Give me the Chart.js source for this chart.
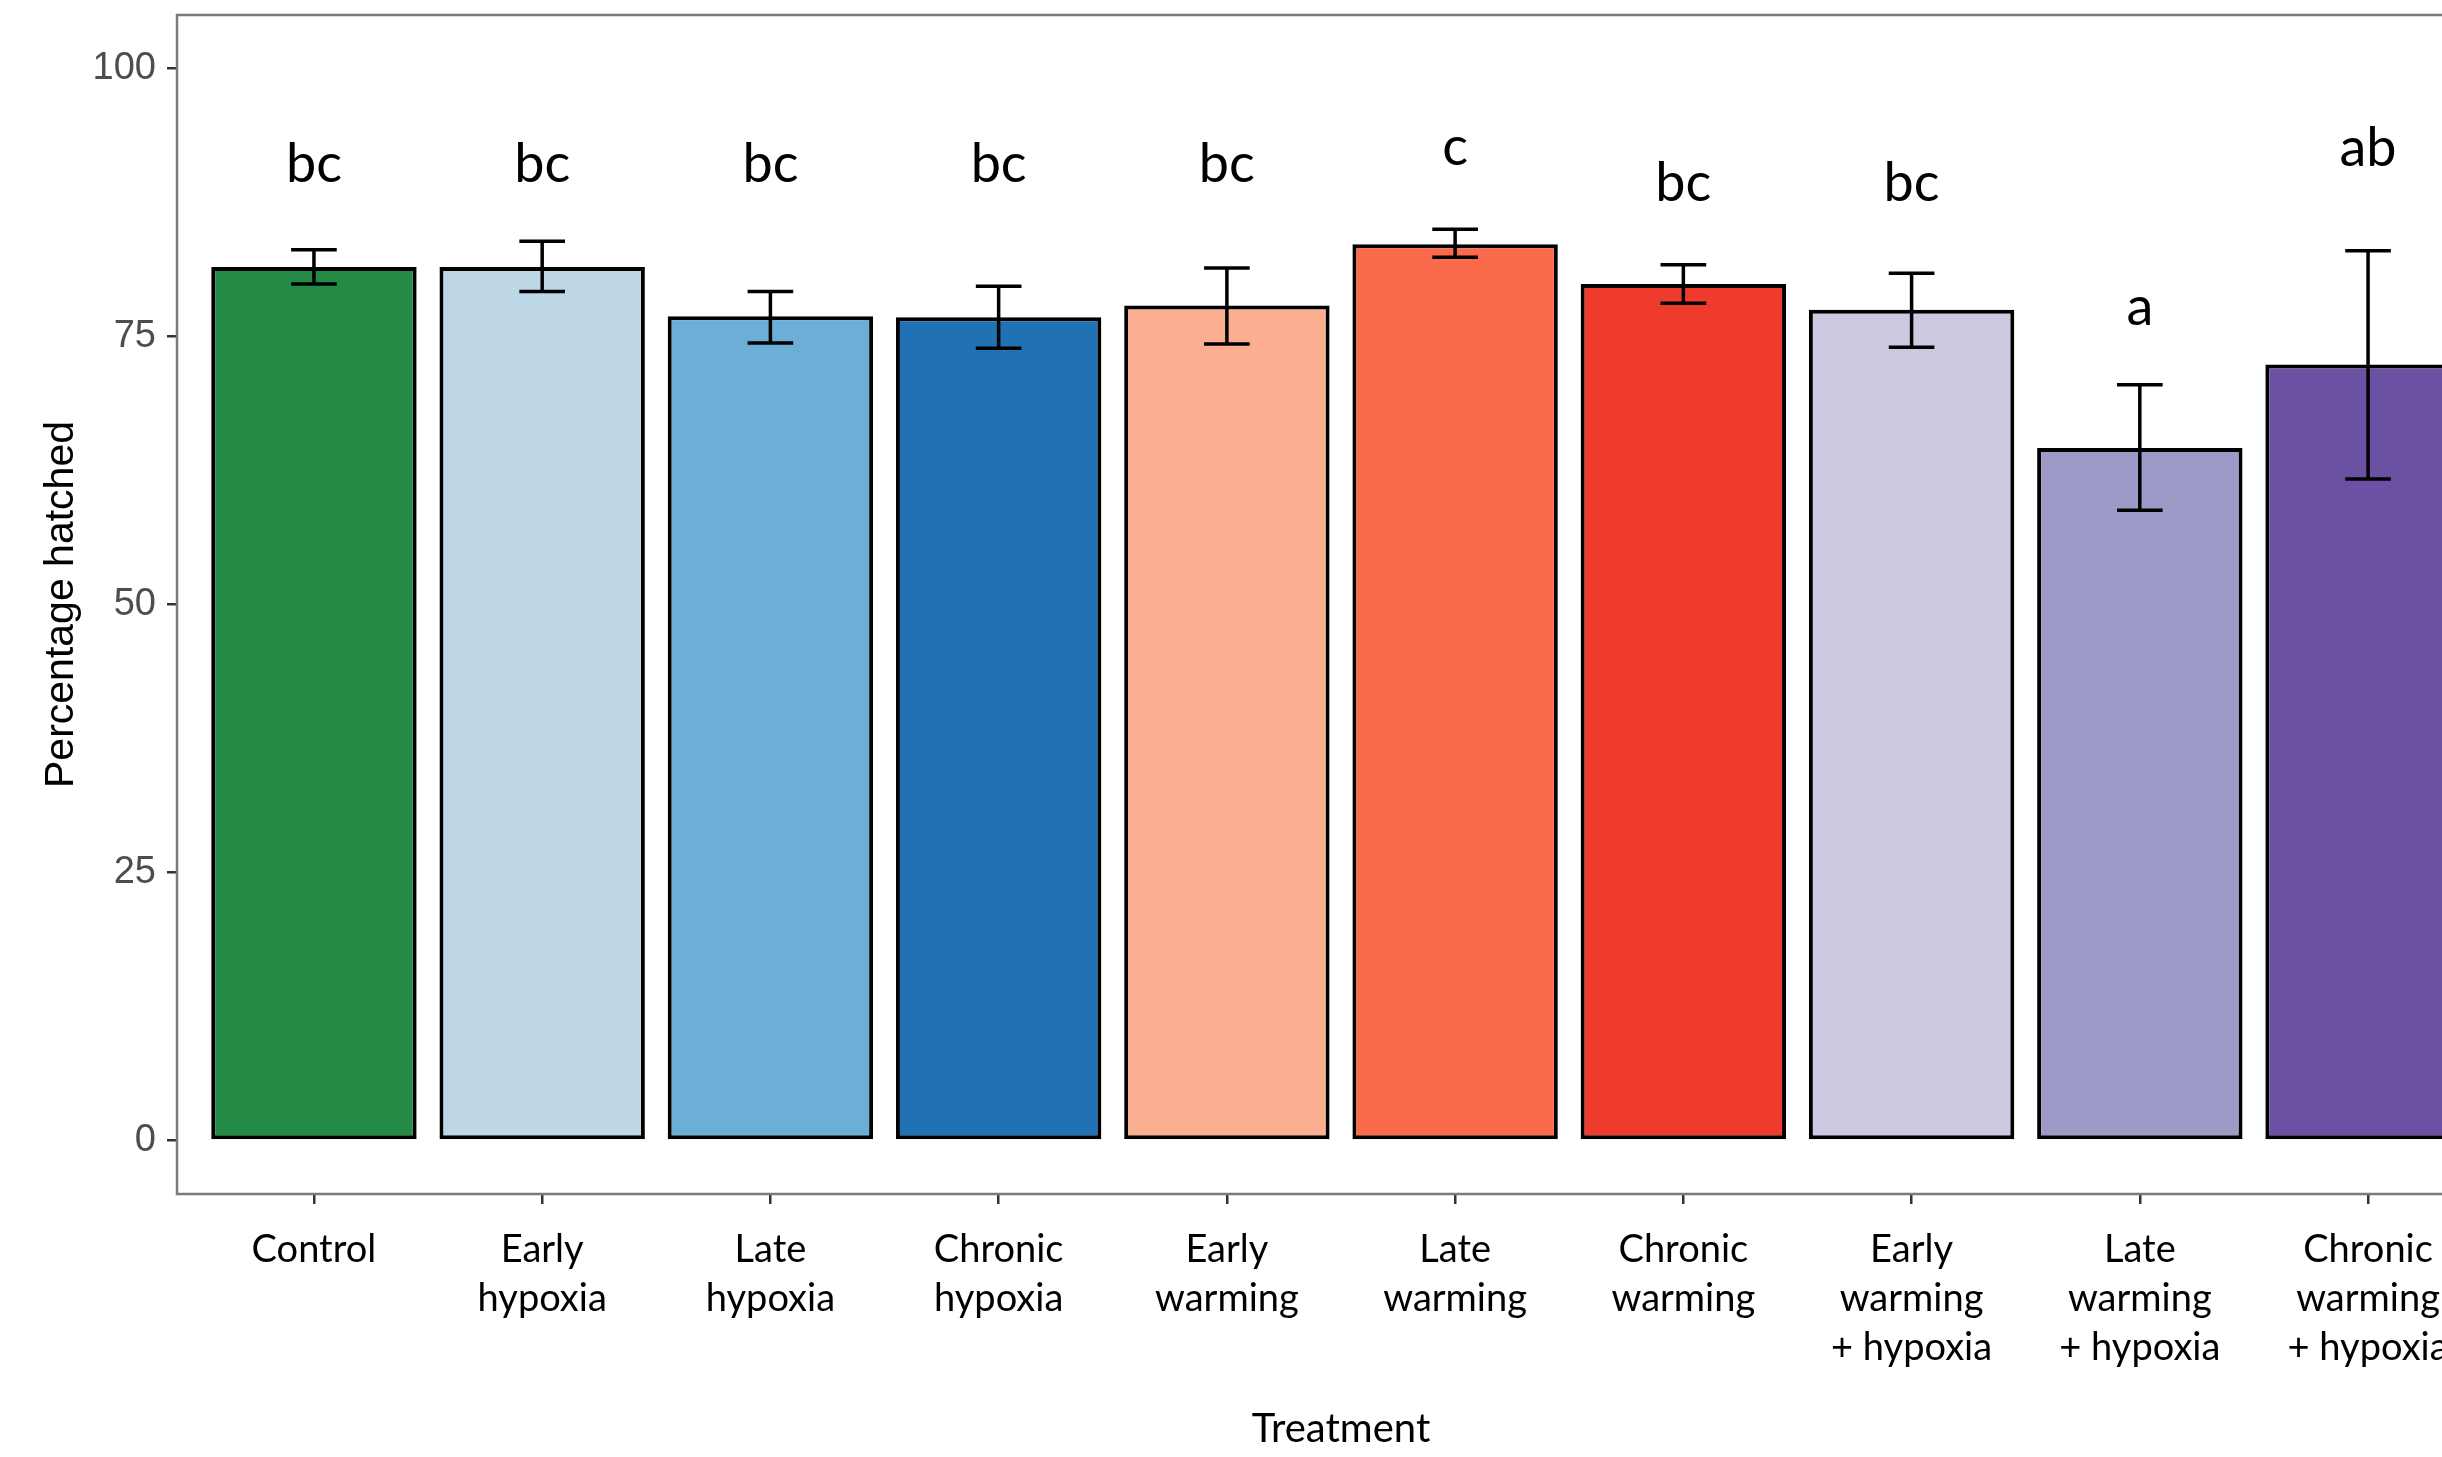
<!DOCTYPE html>
<html>
<head>
<meta charset="utf-8">
<script src="https://cdn.jsdelivr.net/npm/chart.js@4.4.1/dist/chart.umd.min.js"></script>
<style>
  html, body { margin: 0; padding: 0; background: #fff; overflow: hidden; }
  #wrap { width: 2510px; height: 1457px; }
</style>
</head>
<body>
<div id="wrap"><canvas id="myChart" width="2510" height="1457"></canvas></div>
<script>
// datos
const categorias = [
  ["Control"],
  ["Early", "hypoxia"],
  ["Late", "hypoxia"],
  ["Chronic", "hypoxia"],
  ["Early", "warming"],
  ["Late", "warming"],
  ["Chronic", "warming"],
  ["Early", "warming", "+ hypoxia"],
  ["Late", "warming", "+ hypoxia"],
  ["Chronic", "warming", "+ hypoxia"]
];
const medias = [81.5, 81.5, 76.9, 76.8, 77.9, 83.6, 79.9, 77.5, 64.6, 72.4];
const superior = [83.1, 83.9, 79.2, 79.7, 81.4, 85.0, 81.7, 80.9, 70.5, 83.0];
const inferior = [79.9, 79.2, 74.4, 73.9, 74.3, 82.4, 78.1, 74.0, 58.8, 61.7];
const letras = ["bc", "bc", "bc", "bc", "bc", "c", "bc", "bc", "a", "ab"];
const letrasY = [89.4, 89.4, 89.4, 89.4, 89.4, 91.0, 87.6, 87.6, 76.1, 90.9];
const ticksY = [0, 25, 50, 75, 100];

// colores de cada barra
const colores = ["#238b45", "#bdd7e7", "#6baed6", "#2171b5", "#fcae91",
                 "#fb6a4a", "#ef3b2c", "#cbc9e2", "#9e9ac8", "#6a51a3"];

const anchoTapa = 0.1; // mitad del ancho de la tapa, en unidades de categoria

// barras de error y letras encima de cada barra
const errorBars = {
  id: "errorBars",
  afterDatasetsDraw(chart) {
    const { ctx, scales: { x, y } } = chart;
    ctx.save();
    ctx.strokeStyle = "#000";
    ctx.lineWidth = 3.5;
    medias.forEach((m, i) => {
      const cx = x.getPixelForValue(i);
      const l = x.getPixelForValue(i - anchoTapa);
      const r = x.getPixelForValue(i + anchoTapa);
      const top = y.getPixelForValue(superior[i]);
      const bot = y.getPixelForValue(inferior[i]);
      ctx.beginPath();
      ctx.moveTo(cx, top); ctx.lineTo(cx, bot);
      ctx.moveTo(l, top); ctx.lineTo(r, top);
      ctx.moveTo(l, bot); ctx.lineTo(r, bot);
      ctx.stroke();
    });
    ctx.fillStyle = "#000";
    ctx.font = "54px Lato";
    ctx.textAlign = "center";
    ctx.textBaseline = "alphabetic";
    letras.forEach((t, i) => {
      ctx.fillText(t, x.getPixelForValue(i), y.getPixelForValue(letrasY[i]));
    });
    ctx.restore();
  }
};

// marco del panel
const marco = {
  id: "marco",
  afterDraw(chart) {
    const { ctx, chartArea: a } = chart;
    ctx.save();
    ctx.strokeStyle = "#7a7a7a";
    ctx.lineWidth = 2.5;
    ctx.strokeRect(a.left, a.top, a.right - a.left, a.bottom - a.top);
    ctx.restore();
  }
};

const config = {
  type: "bar",
  data: {
    datasets: [{
      data: medias.map((v, i) => ({ x: i, y: v })),
      backgroundColor: colores,
      borderColor: "#000",
      borderWidth: 4,
      borderSkipped: false,
      categoryPercentage: 1,
      barPercentage: 0.9
    }]
  },
  options: {
    responsive: false,
    devicePixelRatio: 1,
    animation: false,
    layout: { padding: { top: 15, right: 5, bottom: 0, left: 0 } },
    plugins: { legend: { display: false }, tooltip: { enabled: false } },
    scales: {
      x: {
        type: "linear",
        min: -0.6,
        max: 9.6,
        offset: false,
        afterBuildTicks: (axis) => { axis.ticks = categorias.map((c, i) => ({ value: i })); },
        afterFit: (axis) => { axis.height = 263; axis.paddingLeft = 0; axis.paddingRight = 0; },
        border: { display: false },
        grid: { drawOnChartArea: false, drawTicks: true, tickLength: 10, color: "#333", lineWidth: 2.5, offset: false },
        ticks: {
          autoSkip: false,
          maxRotation: 0,
          padding: 21,
          color: "#000",
          font: { family: "Lato", size: 38, lineHeight: 1.29 },
          callback: (v) => categorias[v]
        },
        title: {
          display: true,
          text: "Treatment",
          color: "#000",
          font: { family: "Lato", size: 40, lineHeight: 1.2 },
          padding: { top: 4, bottom: 4 }
        }
      },
      y: {
        min: -5,
        max: 105,
        afterBuildTicks: (axis) => { axis.ticks = ticksY.map((v) => ({ value: v })); },
        afterFit: (axis) => { axis.width = 177; axis.paddingTop = 0; axis.paddingBottom = 0; },
        border: { display: false },
        grid: { drawOnChartArea: false, drawTicks: true, tickLength: 10, color: "#333", lineWidth: 2.5 },
        ticks: {
          padding: 11,
          color: "#4d4d4d",
          font: { family: "Liberation Sans", size: 38 }
        },
        title: {
          display: true,
          text: "Percentage hatched",
          color: "#000",
          font: { family: "Liberation Sans", size: 41, lineHeight: 1.2 },
          padding: { top: 37, bottom: 37 }
        }
      }
    }
  },
  plugins: [errorBars, marco]
};

const ctx = document.getElementById("myChart").getContext("2d");
new Chart(ctx, config);
</script>
</body>
</html>
